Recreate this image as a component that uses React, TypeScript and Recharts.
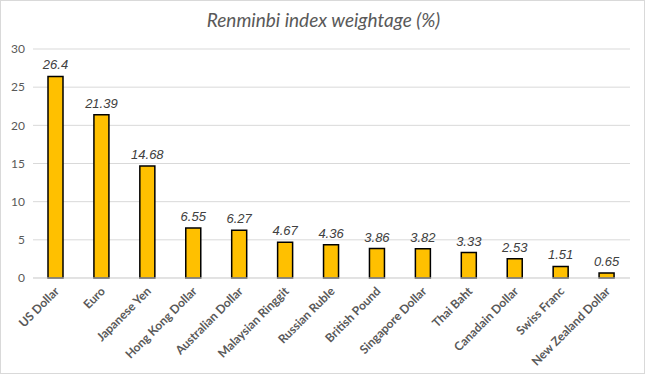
import React from 'react';
import { BarChart, Bar, XAxis, YAxis, CartesianGrid, LabelList } from 'recharts';

const currencies = [
  'US Dollar',
  'Euro',
  'Japanese Yen',
  'Hong Kong Dollar',
  'Australian Dollar',
  'Malaysian Ringgit',
  'Russian Ruble',
  'British Pound',
  'Singapore Dollar',
  'Thai Baht',
  'Canadain Dollar',
  'Swiss Franc',
  'New Zealand Dollar',
];
const weights = [26.4, 21.39, 14.68, 6.55, 6.27, 4.67, 4.36, 3.86, 3.82, 3.33, 2.53, 1.51, 0.65];
const yTicks = [0, 5, 10, 15, 20, 25, 30];

const data = currencies.map((name, i) => ({ name, weight: weights[i] }));

const AngledTick = (props: any) => {
  const { x, y, payload } = props;
  return (
    <g transform={`translate(${x + 4},${y + 6})`}>
      <text
        textAnchor="end"
        transform="rotate(-45)"
        fill="#595959"
        fontSize={12}
        fontWeight={700}
        fontFamily="Lato, sans-serif"
      >
        {payload.value}
      </text>
    </g>
  );
};

export default function App() {
  return (
    <div
      style={{
        position: 'fixed',
        left: 0,
        top: 0,
        width: 645,
        height: 374,
        background: '#fff',
        boxSizing: 'border-box',
        border: '1px solid #d9d9d9',
      }}
    >
      <div
        style={{
          position: 'absolute',
          top: 7,
          left: 0,
          width: 645,
          textAlign: 'center',
          fontFamily: 'Lato, sans-serif',
          fontStyle: 'italic',
          fontSize: 19,
          color: '#595959',
        }}
      >
        Renminbi index weightage (%)
      </div>
      <div style={{ position: 'absolute', left: -1, top: -1 }}>
        <BarChart width={645} height={374} data={data} margin={{ top: 49, right: 15, left: 0, bottom: 0 }}>
          <CartesianGrid vertical={false} stroke="#d9d9d9" />
          <XAxis
            dataKey="name"
            interval={0}
            height={96}
            tickLine={false}
            axisLine={{ stroke: '#d9d9d9' }}
            tick={<AngledTick />}
          />
          <YAxis
            width={33}
            domain={[0, 30]}
            ticks={yTicks}
            tickLine={false}
            axisLine={false}
            tick={{ fill: '#595959', fontSize: 12, fontFamily: 'Lato, sans-serif' }}
          />
          <Bar dataKey="weight" fill="#FFC000" stroke="#000" strokeWidth={1.5} barSize={15} isAnimationActive={false}>
            <LabelList
              dataKey="weight"
              position="top"
              offset={7}
              fill="#404040"
              fontSize={13}
              fontStyle="italic"
              fontFamily="Liberation Sans, Arial, sans-serif"
            />
          </Bar>
        </BarChart>
      </div>
    </div>
  );
}
